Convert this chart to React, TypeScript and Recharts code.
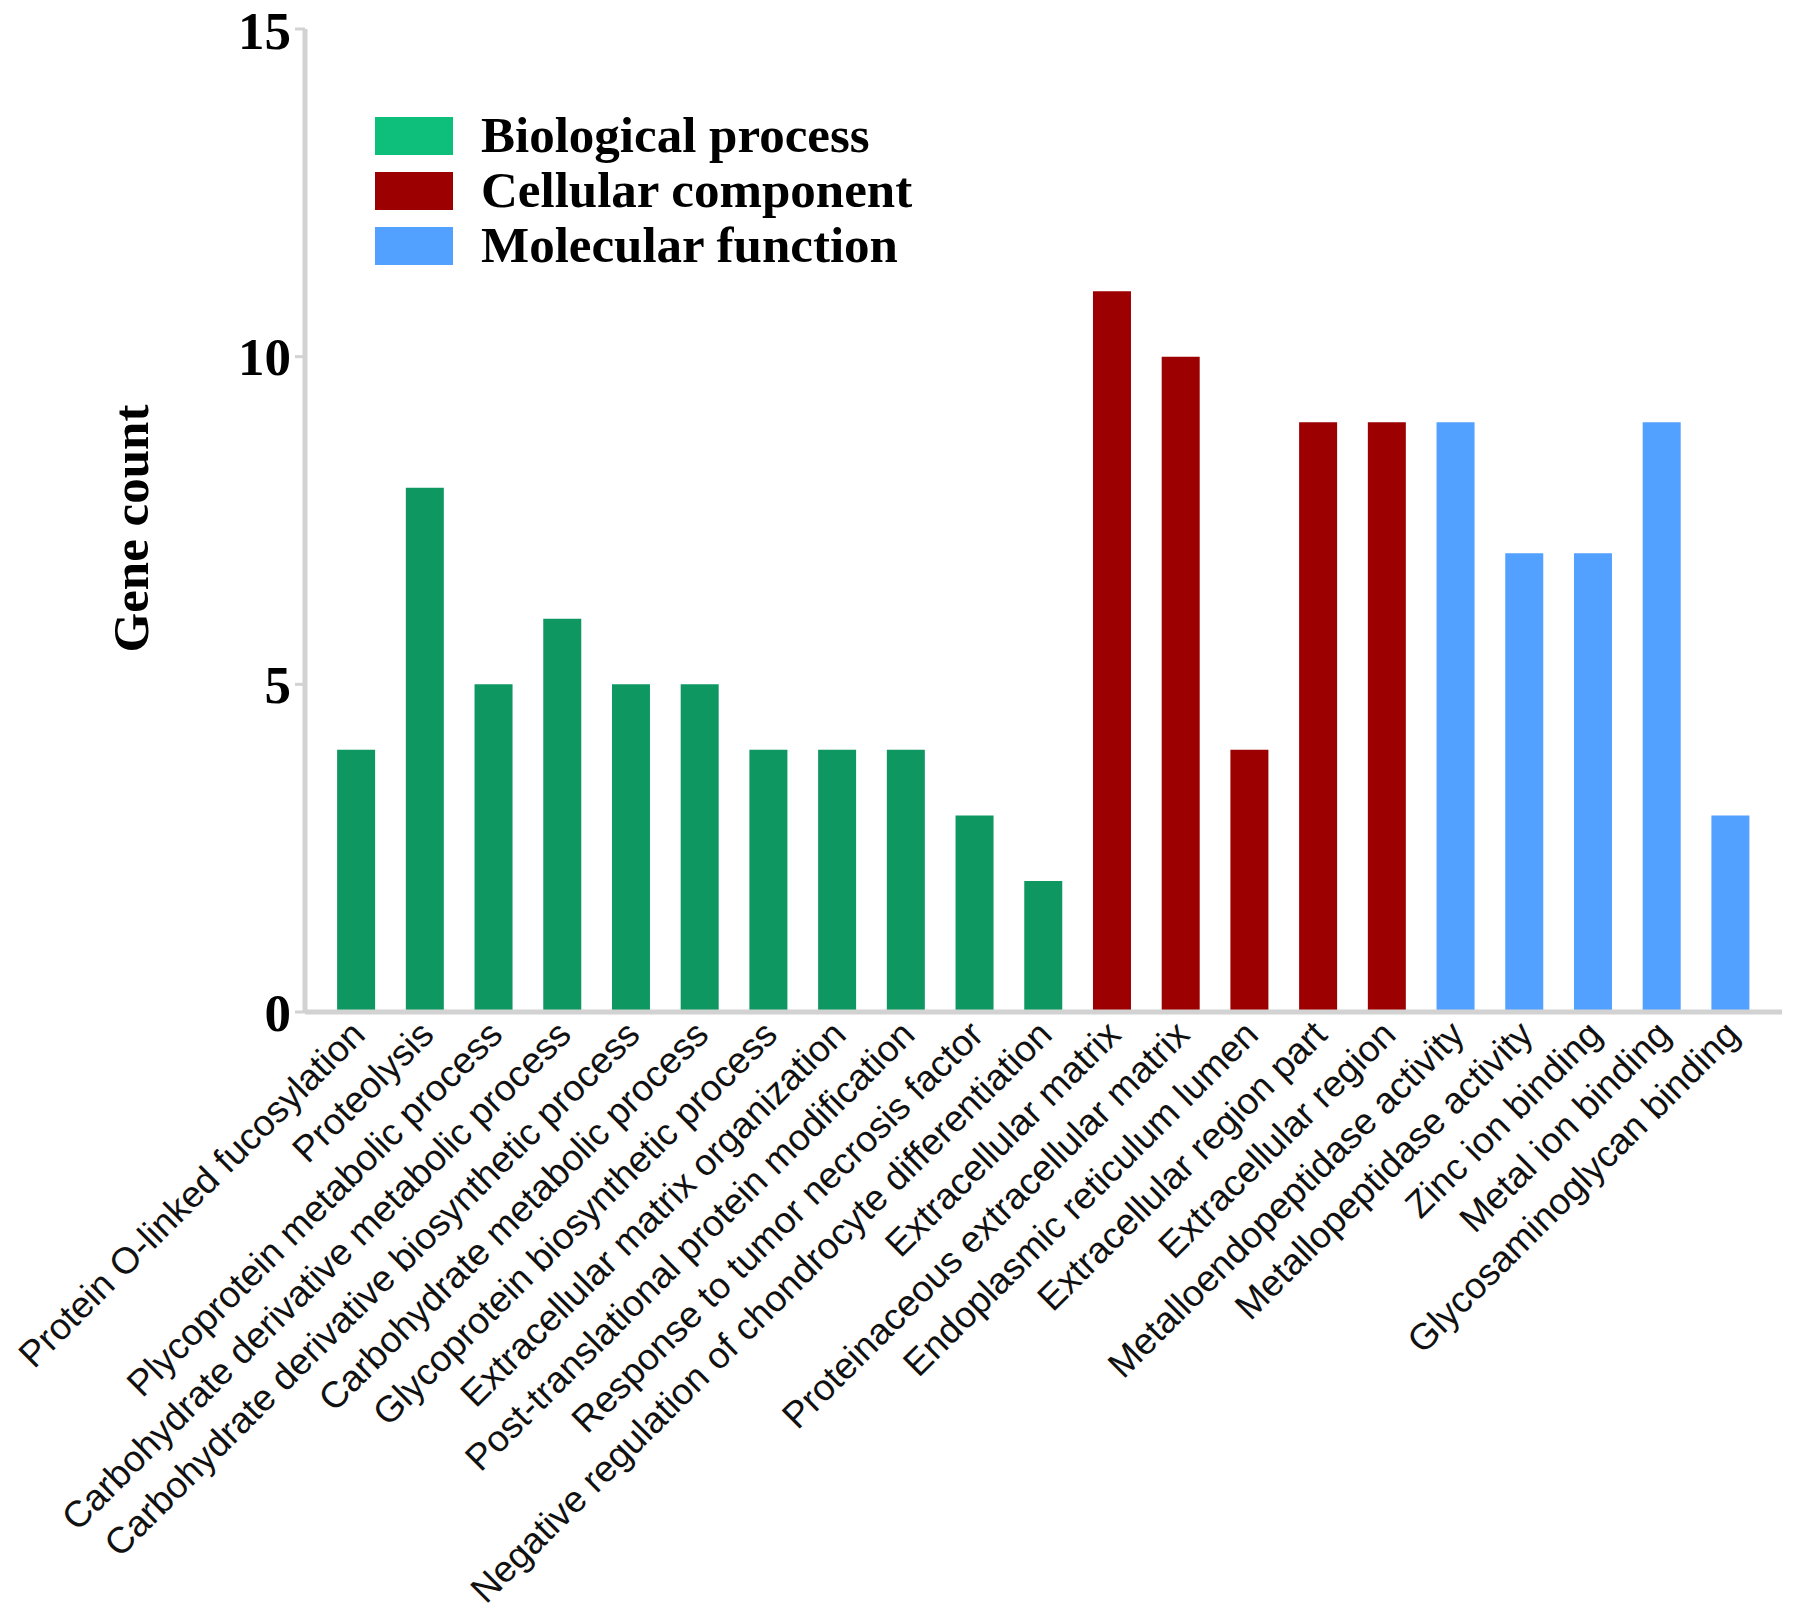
import { Bar, BarChart, Cell, XAxis, YAxis } from 'recharts';

const categories = [
  'Protein O-linked fucosylation',
  'Proteolysis',
  'Plycoprotein metabolic process',
  'Carbohydrate derivative metabolic process',
  'Carbohydrate derivative biosynthetic process',
  'Carbohydrate metabolic process',
  'Glycoprotein biosynthetic process',
  'Extracellular matrix organization',
  'Post-translational protein modification',
  'Response to tumor necrosis factor',
  'Negative regulation of chondrocyte differentiation',
  'Extracellular matrix',
  'Proteinaceous extracellular matrix',
  'Endoplasmic reticulum lumen',
  'Extracellular region part',
  'Extracellular region',
  'Metalloendopeptidase activity',
  'Metallopeptidase activity',
  'Zinc ion binding',
  'Metal ion binding',
  'Glycosaminoglycan binding',
];

const geneCounts = [4, 8, 5, 6, 5, 5, 4, 4, 4, 3, 2, 11, 10, 4, 9, 9, 9, 7, 7, 9, 3];

const groupOf = [
  'bp', 'bp', 'bp', 'bp', 'bp', 'bp', 'bp', 'bp', 'bp', 'bp', 'bp',
  'cc', 'cc', 'cc', 'cc', 'cc',
  'mf', 'mf', 'mf', 'mf', 'mf',
];

const groups = [
  { key: 'bp', name: 'Biological process', bar: '#0f9762', swatch: '#0dbf7b' },
  { key: 'cc', name: 'Cellular component', bar: '#9c0000', swatch: '#9c0000' },
  { key: 'mf', name: 'Molecular function', bar: '#52a0ff', swatch: '#52a0ff' },
];

const yTicks = [0, 5, 10, 15];

const rows = categories.map((name, i) => ({ name, count: geneCounts[i], group: groupOf[i] }));

const serif = '"Liberation Serif", "Times New Roman", serif';
const sans = '"Liberation Sans", Arial, sans-serif';
const axisGrey = '#d2d2d2';

// legend drawn as a plain overlay so it does not push the plot down
function GroupLegend() {
  return (
    <div
      style={{
        position: 'absolute',
        left: 375,
        top: 108,
        fontFamily: serif,
        fontWeight: 'bold',
        fontSize: 51,
        lineHeight: '55px',
      }}
    >
      {groups.map((g) => (
        <div key={g.key} style={{ display: 'flex', alignItems: 'center' }}>
          <span style={{ display: 'inline-block', width: 78, height: 38, background: g.swatch, marginRight: 28 }} />
          <span>{g.name}</span>
        </div>
      ))}
    </div>
  );
}

function CategoryTick({ x, y, payload }: any) {
  const tx = x - 8;
  const ty = y - 2;
  return (
    <text
      x={tx}
      y={ty}
      transform={`rotate(-45, ${tx}, ${ty})`}
      textAnchor="end"
      dominantBaseline="hanging"
      fontFamily={sans}
      fontSize={37}
      fill="#111"
    >
      {payload.value}
    </text>
  );
}

function YLabel({ viewBox }: any) {
  const cx = viewBox.x + 26;
  const cy = viewBox.y + viewBox.height / 2 + 8;
  return (
    <text
      x={cx}
      y={cy}
      transform={`rotate(-90, ${cx}, ${cy})`}
      textAnchor="middle"
      dominantBaseline="central"
      fontFamily={serif}
      fontWeight="bold"
      fontSize={51}
      fill="#000"
    >
      Gene count
    </text>
  );
}

export default function App() {
  return (
    <div style={{ position: 'absolute', left: 0, top: 0, width: 1795, height: 1624, background: '#fff' }}>
      <BarChart
        width={1795}
        height={1624}
        data={rows}
        margin={{ top: 29, right: 13, bottom: 12, left: 105 }}
        barCategoryGap="22%"
      >
        <XAxis
          dataKey="name"
          interval={0}
          height={600}
          padding={{ left: 17, right: 17 }}
          tick={<CategoryTick />}
          tickLine={false}
          axisLine={{ stroke: axisGrey, strokeWidth: 5 }}
        />
        <YAxis
          width={200}
          domain={[0, 15]}
          ticks={yTicks}
          tickSize={10}
          tickMargin={4}
          tickLine={{ stroke: axisGrey, strokeWidth: 3 }}
          axisLine={{ stroke: axisGrey, strokeWidth: 5 }}
          tick={{ fontFamily: serif, fontWeight: 'bold', fontSize: 53, fill: '#000' }}
          label={<YLabel />}
        />
        <Bar dataKey="count" isAnimationActive={false}>
          {rows.map((r, i) => (
            <Cell key={i} fill={groups.find((g) => g.key === r.group)!.bar} />
          ))}
        </Bar>
      </BarChart>
      <GroupLegend />
    </div>
  );
}
